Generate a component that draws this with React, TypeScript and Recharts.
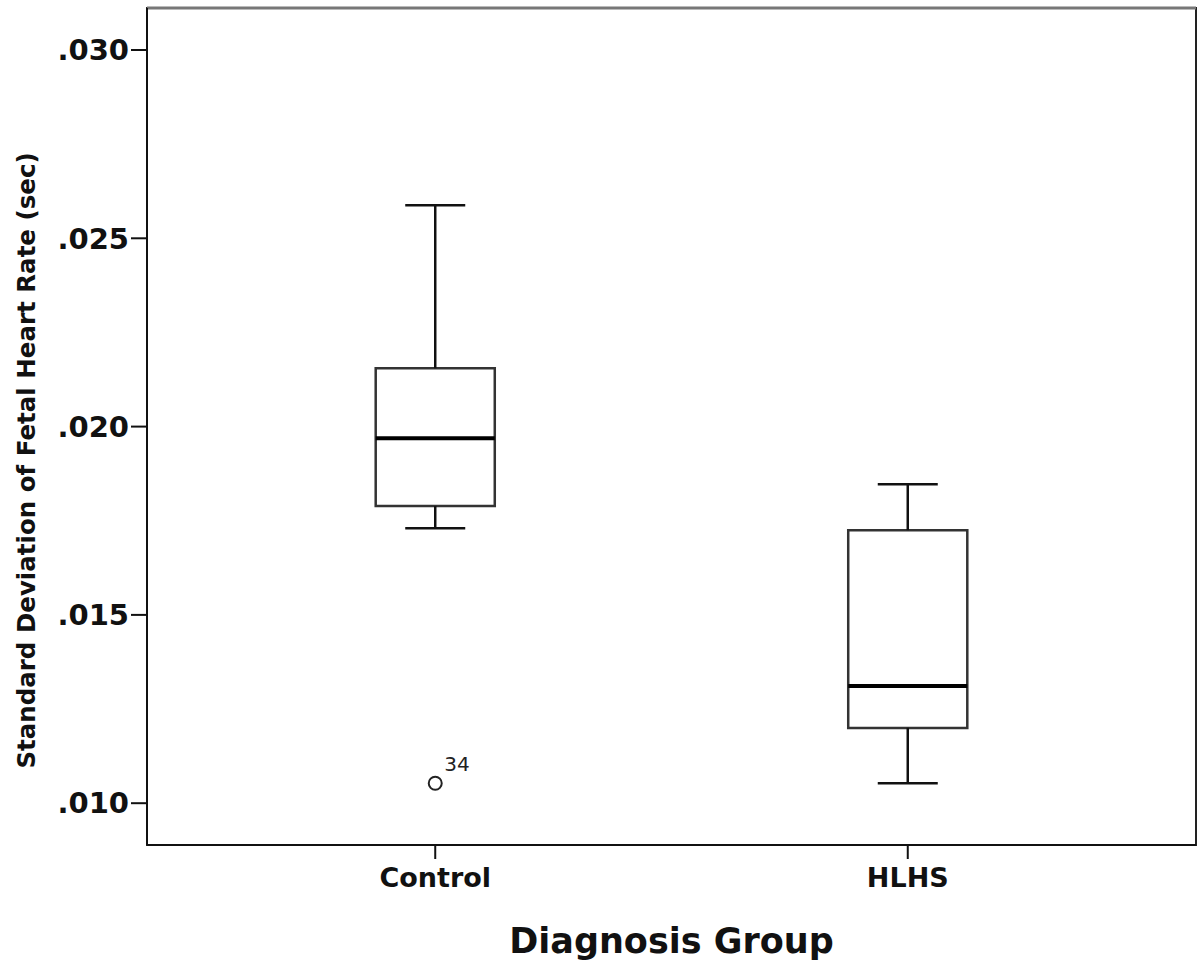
import { ComposedChart, XAxis, YAxis, Scatter, ReferenceArea, ReferenceLine } from 'recharts';

const groups = ['Control', 'HLHS'];
const whiskerLow = [0.0173, 0.01053];
const q1 = [0.01789, 0.012];
const median = [0.01969, 0.01311];
const q3 = [0.02155, 0.01725];
const whiskerHigh = [0.02588, 0.01847];
const outliers = [{ x: 1, y: 0.01053, id: '34' }];
const yTicks = [0.01, 0.015, 0.02, 0.025, 0.03];

const X_DOMAIN: [number, number] = [0.39, 2.61];
const Y_DOMAIN: [number, number] = [0.00889, 0.031115];
const BOX_HALF = 0.126;
const CAP_HALF = 0.0635;
const FONT = 'DejaVu Sans, Verdana, sans-serif';

function OutlierDot(props: { cx?: number; cy?: number; payload?: { id: string } }) {
  const { cx = 0, cy = 0, payload } = props;
  return (
    <g>
      <circle cx={cx} cy={cy} r={6.5} fill="#fff" stroke="#222" strokeWidth={2} />
      <text x={cx + 9} y={cy - 12} fontSize={20} fontFamily={FONT} fill="#222">
        {payload?.id}
      </text>
    </g>
  );
}

function YTitle(props: { viewBox?: { x: number; y: number; width: number; height: number } }) {
  const vb = props.viewBox ?? { x: 0, y: 0, width: 0, height: 0 };
  const x = vb.x + 26;
  const y = vb.y + vb.height / 2 + 34;
  return (
    <text
      x={x}
      y={y}
      transform={`rotate(-90, ${x}, ${y})`}
      textAnchor="middle"
      dominantBaseline="central"
      fontSize={24.5}
      fontWeight={700}
      fill="#111"
      fontFamily={FONT}
    >
      Standard Deviation of Fetal Heart Rate (sec)
    </text>
  );
}

export default function App() {
  return (
    <div style={{ position: 'absolute', left: 0, top: 0, background: '#fff' }}>
      <ComposedChart width={1201} height={961} margin={{ top: 8, right: 5, bottom: 0, left: 0 }}>
        <XAxis
          type="number"
          dataKey="x"
          domain={X_DOMAIN}
          ticks={[1, 2]}
          tickFormatter={(v: number) => groups[v - 1] ?? ''}
          height={116}
          tickSize={14}
          tickMargin={9}
          tick={{ fontSize: 27, fontWeight: 700, fill: '#111', fontFamily: FONT }}
          axisLine={{ stroke: '#111', strokeWidth: 2 }}
          tickLine={{ stroke: '#111', strokeWidth: 2 }}
          allowDataOverflow
          label={{ value: 'Diagnosis Group', position: 'insideBottom', offset: 8, style: { fontSize: 35, fontWeight: 700, fill: '#111', fontFamily: FONT } }}
        />
        <YAxis
          type="number"
          dataKey="y"
          domain={Y_DOMAIN}
          ticks={yTicks}
          tickFormatter={(v: number) => v.toFixed(3).replace(/^0/, '')}
          width={147}
          tickSize={16}
          tickMargin={2}
          tick={{ fontSize: 29, fontWeight: 700, fill: '#111', fontFamily: FONT }}
          axisLine={{ stroke: '#111', strokeWidth: 2 }}
          tickLine={{ stroke: '#111', strokeWidth: 2 }}
          allowDataOverflow
          label={<YTitle />}
        />
        <ReferenceArea x1={X_DOMAIN[0]} x2={X_DOMAIN[1]} y1={Y_DOMAIN[0]} y2={Y_DOMAIN[1]} fill="none" stroke="#222" strokeWidth={2} fillOpacity={0} />
        <ReferenceLine y={Y_DOMAIN[1]} stroke="#777" strokeWidth={3} />
        {groups.map((g, i) => (
          <ReferenceLine key={`wl-${g}`} segment={[{ x: i + 1, y: whiskerLow[i] }, { x: i + 1, y: q1[i] }]} stroke="#111" strokeWidth={2.5} />
        ))}
        {groups.map((g, i) => (
          <ReferenceLine key={`wh-${g}`} segment={[{ x: i + 1, y: q3[i] }, { x: i + 1, y: whiskerHigh[i] }]} stroke="#111" strokeWidth={2.5} />
        ))}
        {groups.map((g, i) => (
          <ReferenceLine key={`ch-${g}`} segment={[{ x: i + 1 - CAP_HALF, y: whiskerHigh[i] }, { x: i + 1 + CAP_HALF, y: whiskerHigh[i] }]} stroke="#111" strokeWidth={2.5} />
        ))}
        {groups.map((g, i) => (
          <ReferenceLine key={`cl-${g}`} segment={[{ x: i + 1 - CAP_HALF, y: whiskerLow[i] }, { x: i + 1 + CAP_HALF, y: whiskerLow[i] }]} stroke="#111" strokeWidth={2.5} />
        ))}
        {groups.map((g, i) => (
          <ReferenceArea key={`b-${g}`} x1={i + 1 - BOX_HALF} x2={i + 1 + BOX_HALF} y1={q1[i]} y2={q3[i]} fill="#fff" fillOpacity={1} stroke="#333" strokeWidth={2.5} />
        ))}
        {groups.map((g, i) => (
          <ReferenceLine key={`m-${g}`} segment={[{ x: i + 1 - BOX_HALF, y: median[i] }, { x: i + 1 + BOX_HALF, y: median[i] }]} stroke="#000" strokeWidth={4} />
        ))}
        <Scatter data={outliers} shape={<OutlierDot />} isAnimationActive={false} />
      </ComposedChart>
    </div>
  );
}
